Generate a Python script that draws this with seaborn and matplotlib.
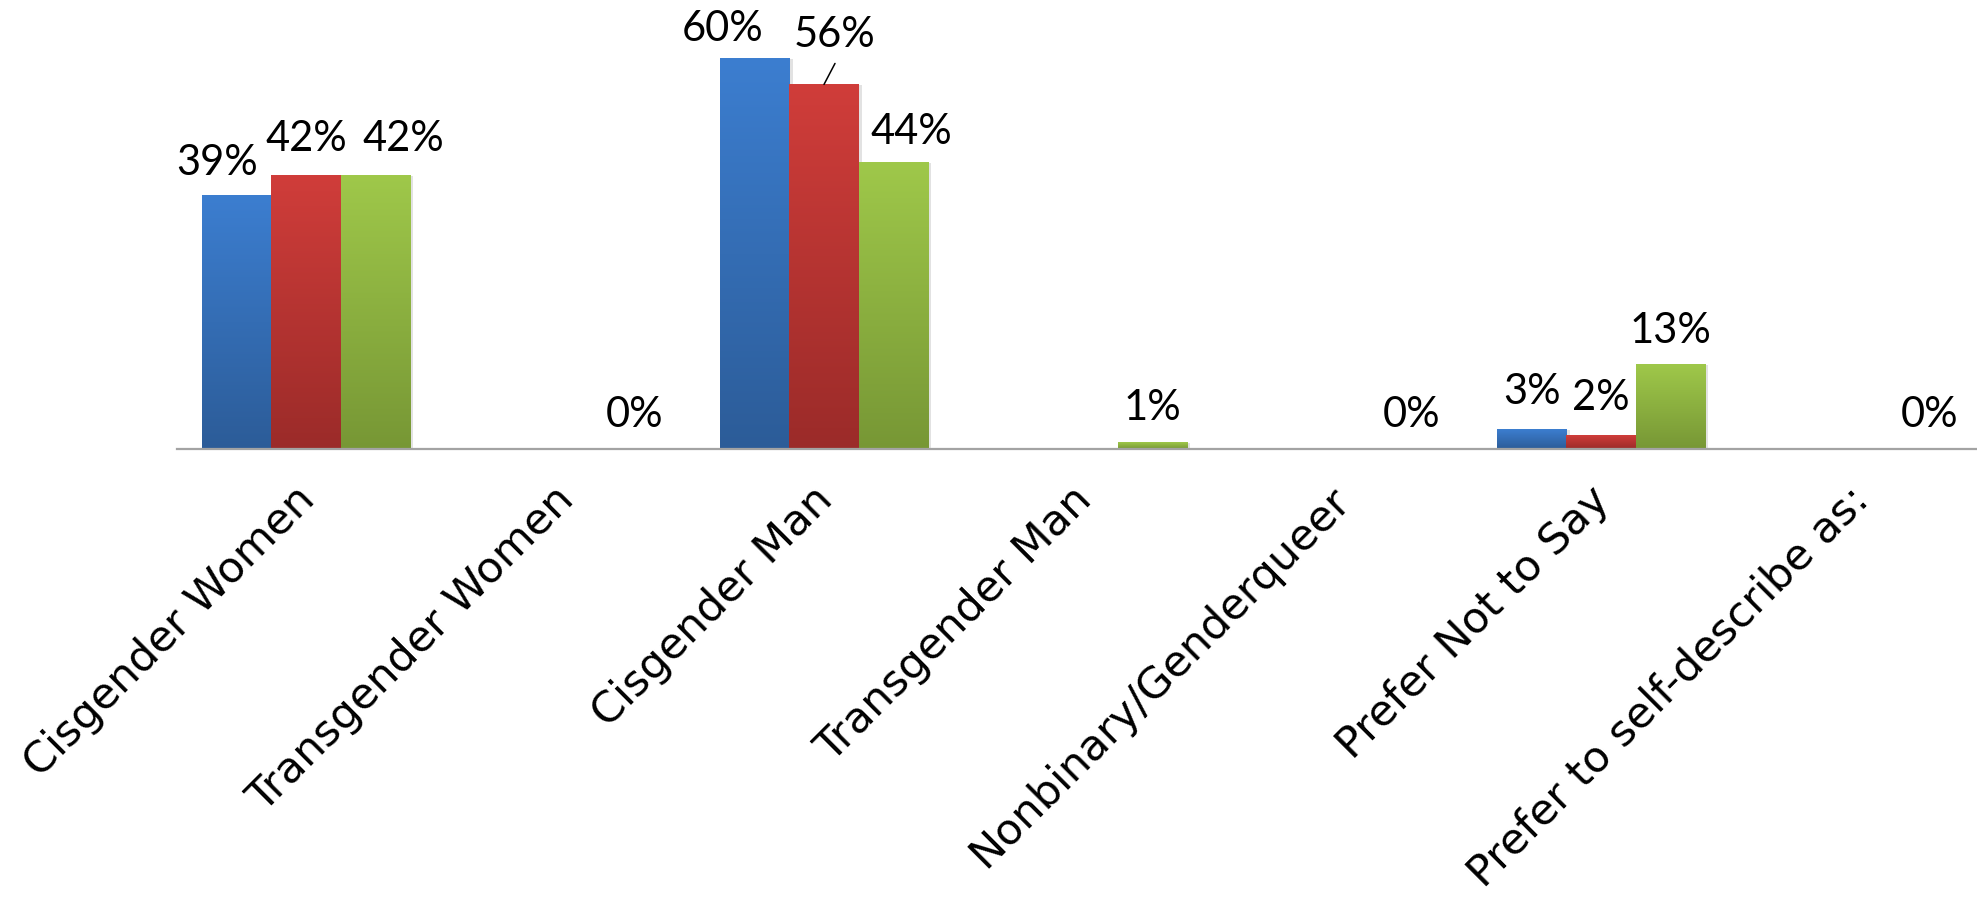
import numpy as np
import pandas as pd
import matplotlib
matplotlib.use("Agg")
import matplotlib.pyplot as plt
import matplotlib.patheffects as pe
from matplotlib.colors import LinearSegmentedColormap
from matplotlib.transforms import ScaledTranslation
import seaborn as sns

# ---- data -------------------------------------------------------------
categories = [
    "Cisgender Women",
    "Transgender Women",
    "Cisgender Man",
    "Transgender Man",
    "Nonbinary/Genderqueer",
    "Prefer Not to Say",
    "Prefer to self-describe as:",
]
series_names = ["Survey 1", "Survey 2", "Survey 3"]
survey1 = [39, np.nan, 60, np.nan, np.nan, 3, np.nan]
survey2 = [42, np.nan, 56, np.nan, np.nan, 2, np.nan]
survey3 = [42, 0, 44, 1, 0, 13, 0]

# ---- styling ----------------------------------------------------------
# (top colour, bottom colour) of each series' vertical gradient
gradients = [
    ("#3C7ED0", "#2C5C98"),
    ("#D03D3A", "#9B2B29"),
    ("#9FC84A", "#779735"),
]
# per-label nudges in pixels: (dx, height of digit centre above bar top)
label_nudge = {
    (0, 0): (-20, 35),
    (1, 0): (0, 40),
    (2, 0): (28, 40),
    (0, 2): (-32, 32),
    (1, 2): (11, 52),
    (2, 2): (18, 34),
    (0, 5): (0, 40),
    (1, 5): (0, 41),
    (2, 5): (0, 36),
}
default_nudge = (0, 37)

sns.set_theme(style="white")
plt.rcParams["font.family"] = ["DejaVu Sans"]

df = pd.DataFrame({
    "category": categories * 3,
    "series": np.repeat(series_names, len(categories)),
    "value": survey1 + survey2 + survey3,
}).dropna()

fig = plt.figure(figsize=(19.77, 9.06), dpi=100)
W, H = 1977, 906
axis_y = 449
px_per_pct = 6.51
cat_w = 259
ymax = 65
ax = fig.add_axes([176.5 / W, (H - axis_y) / H, 7 * cat_w / W, ymax * px_per_pct / H])

sns.barplot(
    data=df, x="category", y="value", hue="series",
    order=categories, hue_order=series_names,
    palette=[g[0] for g in gradients], saturation=1,
    width=0.8, gap=0, legend=False, errorbar=None, ax=ax,
)

# replace flat fills by vertical gradients with a soft drop shadow
for si, cont in enumerate(ax.containers):
    cmap = LinearSegmentedColormap.from_list(f"g{si}", [gradients[si][1], gradients[si][0]])
    for patch in cont.patches:
        x0, w, h = patch.get_x(), patch.get_width(), patch.get_height()
        patch.set_edgecolor("none")
        if not h or h <= 0:
            patch.set_facecolor("none")
            continue
        patch.set_facecolor("white")
        patch.set_path_effects([
            pe.SimplePatchShadow(offset=(2.5, -0.5), shadow_rgbFace="#7f7f7f", alpha=0.22),
            pe.Normal(),
        ])
        ax.imshow(
            np.linspace(0, 1, 256).reshape(-1, 1),
            extent=[x0, x0 + w, 0, h], origin="lower", aspect="auto",
            cmap=cmap, interpolation="bilinear", zorder=patch.get_zorder() + 0.1,
        )

ax.set_xlim(-0.5, 6.5)
ax.set_ylim(0, ymax)

# value labels
for si, cont in enumerate(ax.containers):
    for patch in cont.patches:
        h = patch.get_height()
        if np.isnan(h):
            continue
        xc = patch.get_x() + patch.get_width() / 2
        ci = int(round(xc))
        dx, dy = label_nudge.get((si, ci), default_nudge)
        ax.annotate(
            f"{h:.0f}%", xy=(xc, h), xytext=(dx, dy - 15),
            textcoords="offset pixels", ha="center", va="baseline",
            fontsize=30, family=["Lato", "DejaVu Sans"], color="black",
            annotation_clip=False, zorder=5,
        )
        if (si, ci) == (1, 2):
            ax.annotate(
                "", xy=(xc, h), xytext=(11, 21), textcoords="offset pixels",
                arrowprops=dict(arrowstyle="-", color="black", lw=1.1,
                                shrinkA=0, shrinkB=0),
                annotation_clip=False,
            )

# axes cosmetics
for side in ("left", "right", "top"):
    ax.spines[side].set_visible(False)
ax.spines["bottom"].set_color("#A3A3A3")
ax.spines["bottom"].set_linewidth(1.6)
ax.set_yticks([])
ax.set_xlabel("")
ax.set_ylabel("")
ax.set_xticks(range(len(categories)))
ax.set_xticklabels(categories, rotation=45, ha="right", va="center",
                   rotation_mode="anchor", fontsize=31, color="black",
                   family=["DejaVu Sans"])
ax.tick_params(axis="x", length=0, pad=32)
shift = ScaledTranslation(2 / 100, 0, fig.dpi_scale_trans)
for lab in ax.get_xticklabels():
    lab.set_transform(lab.get_transform() + shift)

fig.savefig("out.png", dpi=100, facecolor="white")
